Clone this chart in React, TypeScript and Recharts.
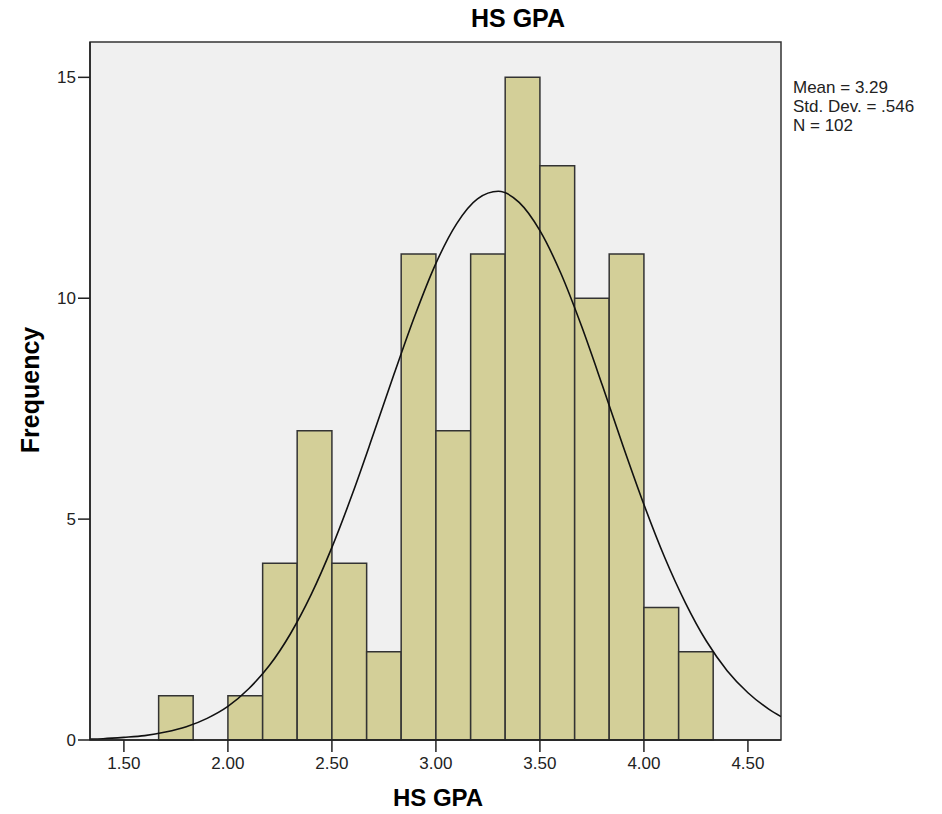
import { ComposedChart, Line, XAxis, YAxis, ReferenceArea, CartesianGrid } from "recharts"

// histogram bins (HS GPA, width 1/6)
const binEdges = [1.667, 1.833, 2.0, 2.167, 2.333, 2.5, 2.667, 2.833, 3.0, 3.167, 3.333, 3.5, 3.667, 3.833, 4.0, 4.167, 4.333]
const counts = [1, 0, 1, 4, 7, 4, 2, 11, 7, 11, 15, 13, 10, 11, 3, 2]

// normal curve
const curveX = [1.337, 1.4, 1.5, 1.6, 1.7, 1.8, 1.9, 2.0, 2.1, 2.2, 2.3, 2.4, 2.5, 2.6, 2.7, 2.8, 2.9, 3.0, 3.1, 3.2, 3.3, 3.4, 3.5, 3.6, 3.7, 3.8, 3.9, 4.0, 4.1, 4.2, 4.3, 4.4, 4.5, 4.6, 4.659]
const curveY = [0.02, 0.03, 0.06, 0.1, 0.18, 0.3, 0.49, 0.76, 1.16, 1.69, 2.4, 3.29, 4.36, 5.59, 6.93, 8.3, 9.62, 10.79, 11.69, 12.25, 12.42, 12.17, 11.53, 10.57, 9.37, 8.03, 6.65, 5.33, 4.13, 3.1, 2.24, 1.57, 1.07, 0.7, 0.53]

const xTicks = [1.5, 2.0, 2.5, 3.0, 3.5, 4.0, 4.5]
const yTicks = [0, 5, 10, 15]
const stats = ["Mean = 3.29", "Std. Dev. = .546", "N = 102"]

const curve = curveX.map((x, i) => ({ x, y: curveY[i] }))
const bins = counts
  .map((c, i) => ({ x1: binEdges[i], x2: binEdges[i + 1], c }))
  .filter((b) => b.c > 0)

const font = "Arial, 'Liberation Sans', sans-serif"
const xDomain = [1.337, 4.659]
const yDomain = [0, 15.8]

export default function App() {
  return (
    <div style={{ position: "absolute", left: 0, top: 0, width: 942, height: 814, background: "#fff", fontFamily: font }}>
      <ComposedChart width={942} height={814} data={curve} margin={{ top: 42, right: 161, bottom: 34, left: 0 }}>
        <CartesianGrid fill="#f0f0f0" horizontal={false} vertical={false} />
        <XAxis
          dataKey="x"
          type="number"
          domain={xDomain}
          ticks={xTicks}
          tickFormatter={(v) => v.toFixed(2)}
          allowDataOverflow
          height={40}
          tickSize={12}
          tickMargin={5}
          stroke="#222"
          strokeWidth={1.5}
          tick={{ fill: "#222", fontSize: 17, fontFamily: font }}
        />
        <YAxis
          type="number"
          domain={yDomain}
          ticks={yTicks}
          allowDataOverflow
          width={90}
          tickSize={12}
          tickMargin={2}
          stroke="#222"
          strokeWidth={1.5}
          tick={{ fill: "#222", fontSize: 17, fontFamily: font }}
        />
        {bins.map((b, i) => (
          <ReferenceArea
            key={i}
            x1={b.x1}
            x2={b.x2}
            y1={0}
            y2={b.c}
            fill="#d3cf98"
            fillOpacity={1}
            stroke="#333"
            strokeWidth={1.5}
          />
        ))}
        <ReferenceArea x1={xDomain[0]} x2={xDomain[1]} y1={yDomain[0]} y2={yDomain[1]} fill="none" stroke="#333" strokeWidth={1.5} />
        <Line dataKey="y" type="monotone" stroke="#111" strokeWidth={1.6} dot={false} isAnimationActive={false} />
      </ComposedChart>
      <div style={{ position: "absolute", left: 418, width: 200, top: 4, textAlign: "center", fontSize: 25, fontWeight: "bold" }}>HS GPA</div>
      <div style={{ position: "absolute", left: 338, width: 200, top: 784, textAlign: "center", fontSize: 24, fontWeight: "bold" }}>HS GPA</div>
      <div
        style={{
          position: "absolute",
          left: 30,
          top: 390,
          transform: "translate(-50%, -50%) rotate(-90deg)",
          fontSize: 25,
          fontWeight: "bold",
          whiteSpace: "nowrap",
        }}
      >
        Frequency
      </div>
      <div style={{ position: "absolute", left: 793, top: 78, fontSize: 17, lineHeight: "19px", color: "#222" }}>
        {stats.map((s) => (
          <div key={s}>{s}</div>
        ))}
      </div>
    </div>
  )
}
